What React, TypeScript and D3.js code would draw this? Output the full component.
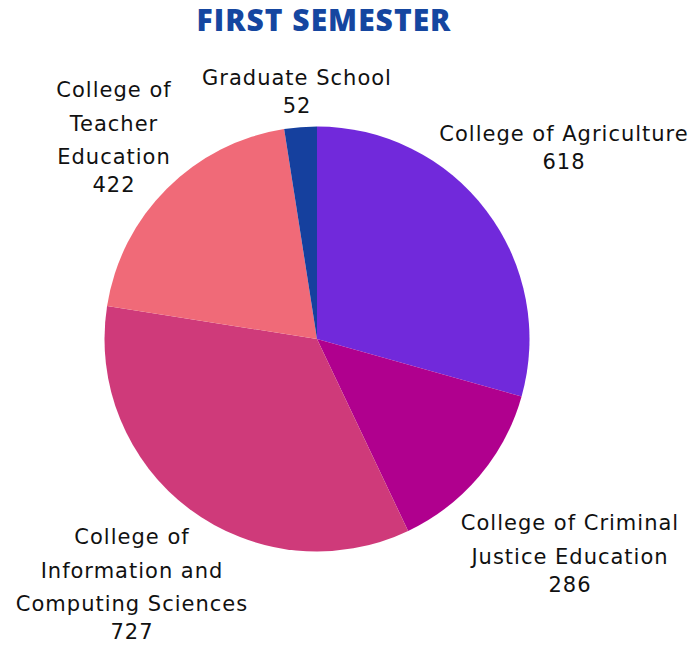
import React from "react";
import * as d3 from "d3";

const categories = [
  "College of Agriculture",
  "College of Criminal Justice Education",
  "College of Information and Computing Sciences",
  "College of Teacher Education",
  "Graduate School",
];
const values = [618, 286, 727, 422, 52];
const colors = ["#7129DB", "#B0008E", "#CF3A7A", "#F06A78", "#15409E"];
const labelLines = [
  ["College of Agriculture"],
  ["College of Criminal", "Justice Education"],
  ["College of", "Information and", "Computing Sciences"],
  ["College of", "Teacher", "Education"],
  ["Graduate School"],
];
// label anchor (center x, first line y) layout
const labelPos = [
  [564, 134],
  [570, 523],
  [132, 537],
  [114, 90],
  [297, 78],
];

const W = 693;
const H = 647;
const cx = 317;
const cy = 339;
const R = 212.5;

export default function App() {
  const pie = d3.pie<number>().sort(null).value((d) => d);
  const arcs = pie(values);
  const arc = d3.arc<d3.PieArcDatum<number>>().innerRadius(0).outerRadius(R);
  const font = "'DejaVu Sans', sans-serif";
  return (
    <svg width={W} height={H} style={{ position: "absolute", left: 0, top: 0 }}>
      <rect width={W} height={H} fill="#fff" />
      <text x={324} y={31} textAnchor="middle" fontFamily="'Open Sans', sans-serif" fontWeight={800} fontSize={30} letterSpacing={1} fill="#1546A0">
        FIRST SEMESTER
      </text>
      <g transform={`translate(${cx},${cy})`}>
        {arcs.map((a, i) => (
          <path key={categories[i]} d={arc(a) || ""} fill={colors[i]} />
        ))}
      </g>
      {labelLines.map((lines, i) => {
        const [x, y] = labelPos[i];
        return (
          <text key={i} textAnchor="middle" fontFamily={font} fontSize={21} letterSpacing={1} fill="#111" dominantBaseline="central">
            {lines.map((l, j) => (
              <tspan key={j} x={x} y={y + j * 33.5}>{l}</tspan>
            ))}
            <tspan x={x} y={y + (lines.length - 1) * 33.5 + 28}>{values[i]}</tspan>
          </text>
        );
      })}
    </svg>
  );
}
